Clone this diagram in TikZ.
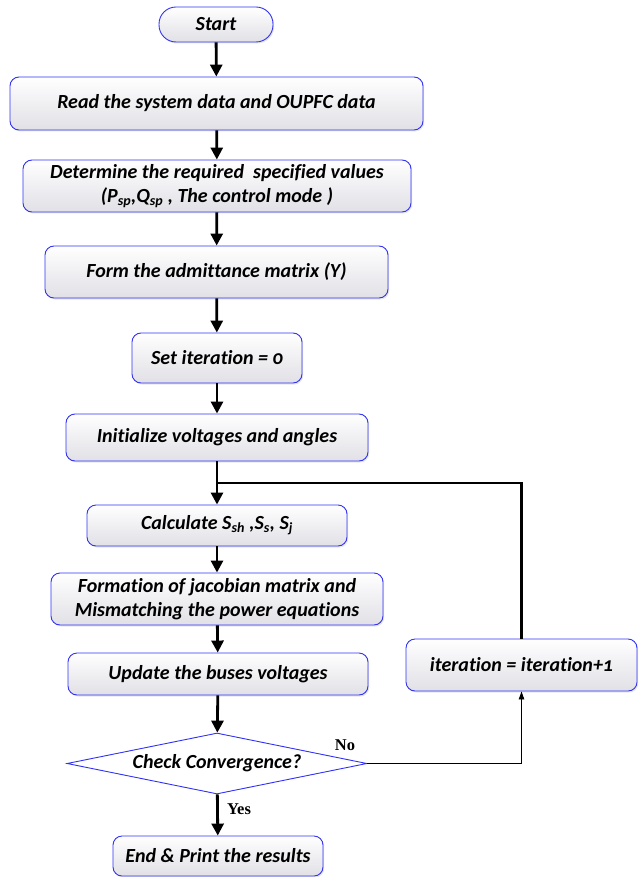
\documentclass[tikz,border=0pt]{standalone}
\usepackage{fontspec}
\setmainfont{Carlito}[Numbers=OldStyle,Ligatures=NoCommon]
\newfontfamily\yesnofont{Liberation Serif}
\usetikzlibrary{arrows.meta,positioning,shapes.geometric,shadows}
\definecolor{boxblue}{RGB}{50,50,245}
\definecolor{boxgray}{RGB}{224,224,230}

\begin{document}
\begin{tikzpicture}[x=1pt,y=-1pt,>=Triangle,
  procbox/.style={draw=boxblue,line width=0.9pt,rounded corners=9pt,top color=white,bottom color=boxgray,
    align=center,inner sep=0pt,font=\fontsize{20}{23.5}\selectfont\bfseries\itshape,
    drop shadow={shadow xshift=1.2pt,shadow yshift=-1.5pt,opacity=0.2}},
  decision/.style={diamond,draw=boxblue,line width=0.9pt,fill=white,shape aspect=5,inner sep=0pt,
    font=\fontsize{20}{23.5}\selectfont\bfseries\itshape},
  flow/.style={line width=2.8pt,-{Triangle[length=12pt,width=12pt]}},
  backflow/.style={line width=0.8pt,-{Triangle[length=8pt,width=5.5pt]}},
  yesno/.style={font=\yesnofont\fontsize{16.5}{18}\selectfont\bfseries,inner sep=0pt}]
\useasboundingbox (0,0) rectangle (638,877);
% main column
\foreach \n/\x/\y/\w/\h/\t in {
  read/216.5/103.5/413/53/{Read the system data and OUPFC data},
  spec/217/186/388/52/{Determine the required~ specified values\\(P\textsubscript{sp},Q\textsubscript{sp} , The control mode )},
  ymat/216.5/272/343/52/{Form the admittance matrix (Y)},
  setit/217/358/170/50/{Set iteration = 0},
  init/217/437.5/302/47/{Initialize voltages and angles},
  calc/217/525.5/260/41/{Calculate S\textsubscript{sh} ,S\textsubscript{s}, S\textsubscript{j}},
  jac/217/599/332/52/{Formation of jacobian matrix and\\Mismatching the power equations},
  upd/218/674/300/42/{Update the buses voltages},
  fin/218/856/210/40/{End \& Print the results}}{
  \node[procbox,minimum width=\w pt,minimum height=\h pt] (\n) at (\x,\y) {\t};
}
\node[procbox,rounded corners=17pt,minimum width=114pt,minimum height=35pt] (start) at (216,24.5) {Start};
\node[procbox,minimum width=231pt,minimum height=52pt] (iter) at (521.5,665) {iteration = iteration+1};
\node[decision,minimum width=300pt,minimum height=61pt] (conv) at (217,763.5) {Check Convergence?};
\coordinate (join) at (217,483);
% connectors
\foreach \a/\b in {start/read,read/spec,spec/ymat,ymat/setit,setit/init,init/calc,calc/jac,jac/upd,upd/conv,conv/fin}{
  \draw[flow] (\a) -- (\b);
}
\draw[line width=2.8pt] (iter.north) |- (join);
\draw[backflow] (conv.east) -| (iter.south);
\node[yesno] (no) at (345,745) {No};
\node[yesno] (yes) at (239,809) {Yes};
\end{tikzpicture}
\end{document}
